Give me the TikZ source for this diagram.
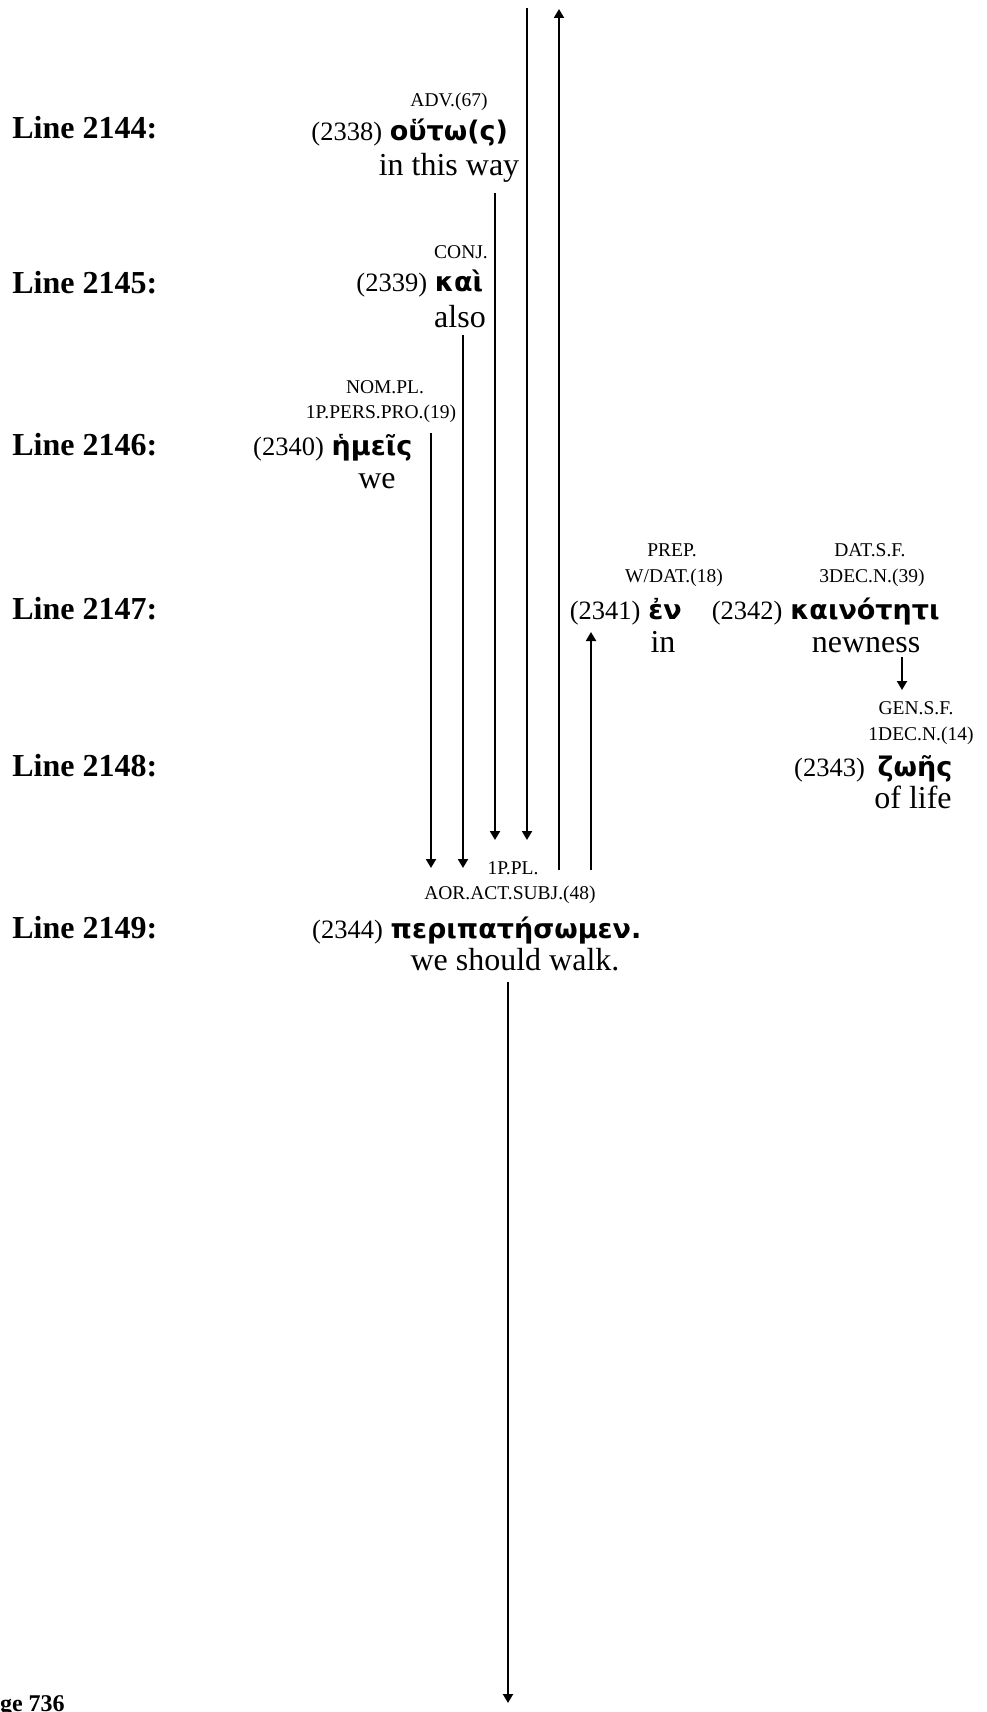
\documentclass[tikz,border=0pt]{standalone}
\usepackage{fontspec}
\setmainfont{Liberation Serif}
\newfontfamily\grkfont[Script=Greek]{DejaVu Sans}
\usetikzlibrary{arrows.meta}
\begin{document}
\begin{tikzpicture}[x=0.5pt,y=-0.5pt,
  lbl/.style={anchor=base west, inner sep=0pt, font=\fontsize{16}{19}\selectfont\bfseries},
  pagelbl/.style={anchor=base west, inner sep=0pt, font=\fontsize{12}{14}\selectfont\bfseries},
  gram/.style={anchor=base, inner sep=0pt, font=\fontsize{9.75}{11}\selectfont},
  grk/.style={anchor=base, inner sep=0pt, font=\fontsize{13.5}{16}\selectfont\grkfont\bfseries},
  num/.style={anchor=base east, inner sep=0pt, font=\fontsize{13.25}{16}\selectfont},
  gloss/.style={anchor=base, inner sep=0pt, font=\fontsize{16}{19}\selectfont},
  bare/.style={line width=1pt},
  conn/.style={line width=1pt, -{Triangle[length=4.5pt,width=5pt]}}]
\useasboundingbox (0,0) rectangle (986,1712);

% line labels
\node[lbl] (L2144) at (12,139) {Line 2144:};
\node[lbl] (L2145) at (12,293) {Line 2145:};
\node[lbl] (L2146) at (12,455) {Line 2146:};
\node[lbl] (L2147) at (12,619) {Line 2147:};
\node[lbl] (L2148) at (12,776) {Line 2148:};
\node[lbl] (L2149) at (12,938) {Line 2149:};
\node[pagelbl] (page) at (-27,1711) {Page 736};

% 2338
\node[grk] (g2338) at (449,141) {οὕτω(ς)};
\node[num] (n2338) at ([xshift=-3.5pt]g2338.base west) {(2338)};
\node[gram] (a2338) at (449,107) {ADV.(67)};
\node[gloss] (e2338) at (449,176) {in this way};

% 2339
\node[grk] (g2339) at (459,292) {καὶ};
\node[num] (n2339) at ([xshift=-3.5pt]g2339.base west) {(2339)};
\node[gram] (a2339) at (461,258) {CONJ.};
\node[gloss] (e2339) at (460,327) {also};

% 2340
\node[grk] (g2340) at (372,455) {ἡμεῖς};
\node[num] (n2340) at ([xshift=-3.5pt]g2340.base west) {(2340)};
\node[gram] (a2340) at (385,393) {NOM.PL.};
\node[gram] (b2340) at (381,418) {1P.PERS.PRO.(19)};
\node[gloss] (e2340) at (377,488) {we};

% 2341
\node[grk] (g2341) at (665,619) {ἐν};
\node[num] (n2341) at ([xshift=-3.5pt]g2341.base west) {(2341)};
\node[gram] (a2341) at (672,556) {PREP.};
\node[gram] (b2341) at (674,582) {W/DAT.(18)};
\node[gloss] (e2341) at (663,652) {in};

% 2342
\node[grk] (g2342) at (865,619) {καινότητι};
\node[num] (n2342) at ([xshift=-3.5pt]g2342.base west) {(2342)};
\node[gram] (a2342) at (870,556) {DAT.S.F.};
\node[gram] (b2342) at (872,582) {3DEC.N.(39)};
\node[gloss] (e2342) at (866,652) {newness};

% 2343
\node[grk] (g2343) at (915,776) {ζωῆς};
\node[num] (n2343) at ([xshift=-6pt]g2343.base west) {(2343)};
\node[gram] (a2343) at (916,714) {GEN.S.F.};
\node[gram] (b2343) at (921,740) {1DEC.N.(14)};
\node[gloss] (e2343) at (913,808) {of life};

% 2344
\node[grk] (g2344) at (516,938) {περιπατήσωμεν.};
\node[num] (n2344) at ([xshift=-3.5pt]g2344.base west) {(2344)};
\node[gram] (a2344) at (513,874) {1P.PL.};
\node[gram] (b2344) at (510,899) {AOR.ACT.SUBJ.(48)};
\node[gloss] (e2344) at (515,970) {we should walk.};

% connector end points
\coordinate (v1s) at (431,433); \coordinate (v1e) at (431,868);
\coordinate (v2s) at (463,335); \coordinate (v2e) at (463,868);
\coordinate (v3s) at (495,193); \coordinate (v3e) at (495,840);
\coordinate (v4s) at (527,8);   \coordinate (v4e) at (527,840);
\coordinate (v5s) at (559,870); \coordinate (v5e) at (559,9);
\coordinate (v6s) at (591,870); \coordinate (v6e) at (591,632);
\coordinate (v7s) at (902,657); \coordinate (v7e) at (902,690);
\coordinate (v8s) at (508,982); \coordinate (v8e) at (508,1703);

\draw[conn] (v1s) -- (v1e);
\draw[conn] (v2s) -- (v2e);
\draw[conn] (v3s) -- (v3e);
\draw[conn] (v4s) -- (v4e);
\draw[conn] (v5s) -- (v5e);
\draw[conn] (v6s) -- (v6e);
\draw[conn] (v7s) -- (v7e);
\draw[conn] (v8s) -- (v8e);
\end{tikzpicture}
\end{document}
